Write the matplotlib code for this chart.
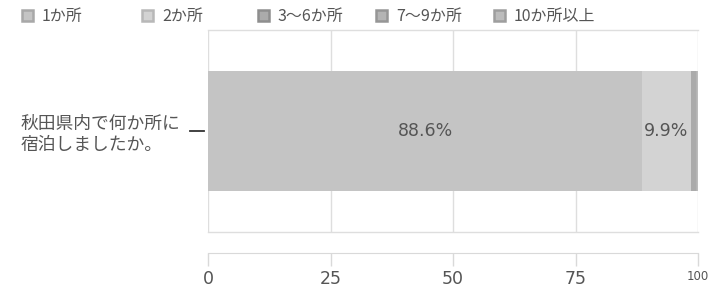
import matplotlib

matplotlib.use("Agg")
import matplotlib.pyplot as plt
import matplotlib.transforms as mtransforms
from matplotlib.patches import Rectangle

plt.rcParams["font.family"] = ["Noto Sans CJK JP", "DejaVu Sans"]

question = "秋田県内で何か所に\n宿泊しましたか。"
categories = ["1か所", "2か所", "3～6か所", "7～9か所", "10か所以上"]
shares = [88.6, 9.9, 1.1, 0.2, 0.2]
bar_colors = ["#c4c4c4", "#d3d3d3", "#ababab", "#b4b4b4", "#bcbcbc"]
edge_colors = ["#a8a8a8", "#b8b8b8", "#8e8e8e", "#969696", "#9e9e9e"]
xticks = [0, 25, 50, 75, 100]
label_min = 5.0

TEXT = "#555555"

fig = plt.figure(figsize=(7.12, 2.86), dpi=100)
ax = fig.add_axes([208 / 712, 1 - 232 / 286, 490 / 712, 202 / 286])

for side in ("left", "right", "top"):
    ax.spines[side].set_visible(False)
ax.spines["bottom"].set_position(("outward", 15))
ax.spines["bottom"].set_color("#d9d9d9")

left = 0.0
for val, col in zip(shares, bar_colors):
    ax.barh(0, val, left=left, height=0.594, color=col, edgecolor="none", zorder=2)
    if val >= label_min:
        ax.text(left + val / 2, 0, f"{val:.1f}%", ha="center", va="center",
                fontsize=12.5, color=TEXT, family="DejaVu Sans", zorder=3)
    left += val

ax.set_xlim(0, 100)
ax.set_ylim(-0.5, 0.5)
ax.set_yticks([0])
ax.set_yticklabels([question], fontsize=12.8, color=TEXT, linespacing=1.2,
                   multialignment="left")
ax.tick_params(axis="y", length=0, pad=20)

# short dark tick mark, set a few pixels off the plot area
tick_tr = mtransforms.blended_transform_factory(ax.transAxes, ax.transData)
tick_tr = tick_tr + mtransforms.ScaledTranslation(-4 / 100, 0, fig.dpi_scale_trans)
ax.plot([-14 / 490, 0], [0, 0], color="#333333", linewidth=1.3,
        clip_on=False, transform=tick_tr)

ax.set_xticks(xticks)
ax.set_xticklabels([str(t) for t in xticks], fontsize=12.5, color=TEXT,
                   family="DejaVu Sans")
ax.get_xticklabels()[-1].set_fontsize(8.5)
ax.tick_params(axis="x", length=9, width=1, color="#d9d9d9", pad=3)
ax.grid(axis="x", color="#dedede", linewidth=1, zorder=1)

for y in ax.get_ylim():
    ax.axhline(y, color="#dedede", linewidth=1, zorder=1, clip_on=False)

# legend row across the top
legend_x = [22, 142, 258, 376, 494]
for x, cat, col, ec in zip(legend_x, categories, bar_colors, edge_colors):
    fig.patches.append(Rectangle((x / 712, 1 - 21 / 286), 11 / 712, 11 / 286,
                                 transform=fig.transFigure, facecolor=col,
                                 edgecolor=ec, linewidth=1.8))
    fig.text((x + 20) / 712, 1 - 16 / 286, cat, fontsize=11.5, color=TEXT,
             ha="left", va="center")

fig.savefig("out.png", dpi=100)
